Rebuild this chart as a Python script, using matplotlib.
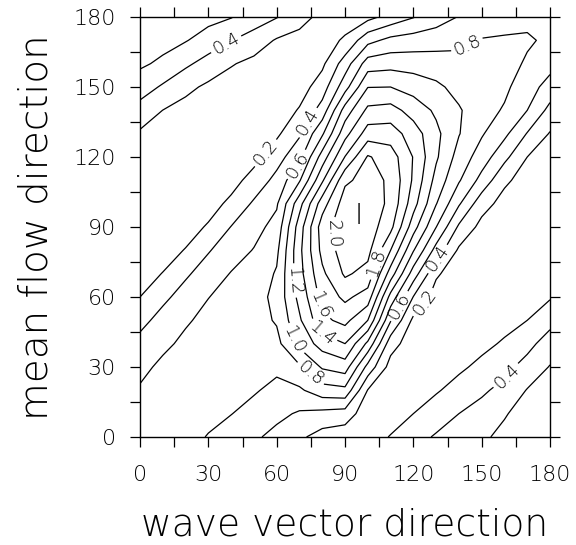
import numpy as np
import matplotlib
matplotlib.use("Agg")
import matplotlib.pyplot as plt

# grid of the field, degrees
wave_dir = np.arange(0, 181, 10)
flow_dir = np.arange(0, 181, 10)

# one column per wave vector direction, values listed from flow dir 0 up to 180
c000 = [0.70, 0.66, 0.62, 0.55, 0.46, 0.34, 0.20, 0.12, 0.065, 0.035, 0.034, 0.053, 0.10, 0.173, 0.32, 0.50, 0.63, 0.69, 0.75]
c010 = [0.69, 0.70, 0.68, 0.64, 0.56, 0.47, 0.355, 0.206, 0.119, 0.063, 0.034, 0.033, 0.06, 0.115, 0.198, 0.373, 0.565, 0.66, 0.73]
c020 = [0.66, 0.69, 0.70, 0.68, 0.64, 0.578, 0.48, 0.37, 0.21, 0.118, 0.06, 0.034, 0.036, 0.069, 0.133, 0.249, 0.438, 0.612, 0.70]
c030 = [0.59, 0.65, 0.69, 0.70, 0.69, 0.65, 0.596, 0.493, 0.385, 0.221, 0.121, 0.061, 0.036, 0.045, 0.087, 0.163, 0.322, 0.514, 0.66]
c040 = [0.51, 0.605, 0.66, 0.69, 0.70, 0.69, 0.66, 0.61, 0.508, 0.406, 0.244, 0.128, 0.064, 0.04, 0.056, 0.112, 0.215, 0.406, 0.61]
c050 = [0.433, 0.53, 0.62, 0.67, 0.70, 0.72, 0.71, 0.67, 0.61, 0.53, 0.43, 0.274, 0.139, 0.071, 0.05, 0.076, 0.148, 0.306, 0.51]
c060 = [0.34, 0.452, 0.545, 0.642, 0.74, 0.82, 0.86, 0.82, 0.755, 0.67, 0.575, 0.46, 0.32, 0.163, 0.084, 0.06, 0.093, 0.181, 0.41]
c070 = [0.236, 0.376, 0.568, 0.77, 1.057, 1.17, 1.26, 1.33, 1.35, 1.30, 1.127, 0.779, 0.535, 0.373, 0.217, 0.11, 0.08, 0.128, 0.28]
c080 = [0.12, 0.341, 0.715, 1.025, 1.285, 1.553, 1.67, 1.76, 1.86, 1.90, 1.71, 1.369, 1.089, 0.77, 0.481, 0.30, 0.16, 0.11, 0.14]
c090 = [0.08, 0.31, 0.747, 1.10, 1.40, 1.657, 1.844, 2.03, 2.10, 2.14, 2.10, 1.965, 1.607, 1.329, 1.088, 0.72, 0.497, 0.229, 0.10]
c100 = [0.115, 0.08, 0.19, 0.533, 0.954, 1.40, 1.714, 1.935, 2.06, 2.11, 2.11, 2.07, 2.02, 1.697, 1.447, 1.195, 0.898, 0.537, 0.14]
c110 = [0.21, 0.114, 0.08, 0.122, 0.283, 0.618, 0.929, 1.307, 1.60, 1.86, 1.96, 1.97, 1.90, 1.70, 1.477, 1.20, 0.926, 0.656, 0.27]
c120 = [0.33, 0.20, 0.108, 0.072, 0.087, 0.155, 0.393, 0.705, 1.014, 1.285, 1.48, 1.57, 1.59, 1.50, 1.318, 1.12, 0.913, 0.69, 0.39]
c130 = [0.42, 0.306, 0.179, 0.10, 0.063, 0.069, 0.117, 0.228, 0.523, 0.804, 1.01, 1.13, 1.23, 1.25, 1.165, 1.04, 0.89, 0.72, 0.50]
c140 = [0.505, 0.40, 0.277, 0.163, 0.09, 0.054, 0.054, 0.092, 0.167, 0.367, 0.624, 0.82, 0.92, 1.01, 1.02, 0.937, 0.86, 0.754, 0.61]
c150 = [0.58, 0.475, 0.367, 0.25, 0.147, 0.08, 0.045, 0.043, 0.074, 0.138, 0.281, 0.533, 0.706, 0.82, 0.88, 0.89, 0.86, 0.81, 0.70]
c160 = [0.63, 0.59, 0.462, 0.34, 0.225, 0.132, 0.07, 0.039, 0.038, 0.068, 0.128, 0.237, 0.455, 0.647, 0.78, 0.84, 0.86, 0.82, 0.73]
c170 = [0.67, 0.65, 0.61, 0.477, 0.335, 0.20, 0.117, 0.061, 0.033, 0.033, 0.061, 0.117, 0.20, 0.389, 0.60, 0.69, 0.78, 0.82, 0.76]
c180 = [0.70, 0.67, 0.64, 0.61, 0.50, 0.333, 0.182, 0.107, 0.057, 0.033, 0.033, 0.059, 0.11, 0.186, 0.34, 0.52, 0.67, 0.77, 0.76]

levels = [0.2, 0.4, 0.6, 0.8, 1.0, 1.2, 1.4, 1.6, 1.8, 2.0]

# where the contour labels sit (wave dir, flow dir)
label_spots = [(38, 168), (144, 167), (56, 121), (75, 134), (70, 116),
               (84, 87), (105, 74), (67, 67), (77, 56), (79, 44),
               (65, 41), (73, 25), (114, 56), (123, 59), (131, 76),
               (161, 26)]

peak_x, peak_y = 96, 94.5

plt.rcParams['font.family'] = ['DejaVu Sans']
plt.rcParams['font.weight'] = 200

field = np.array([c000, c010, c020, c030, c040, c050, c060, c070, c080, c090,
                  c100, c110, c120, c130, c140, c150, c160, c170, c180]).T

fig = plt.figure(figsize=(5.76, 5.45), dpi=100)
ax = fig.add_axes([0.2431, 0.1982, 0.7118, 0.7706])

cs = ax.contour(wave_dir, flow_dir, field, levels=levels, colors='black',
                linewidths=0.9)
labels = ax.clabel(cs, levels, manual=label_spots, fmt='%.1f', fontsize=13,
                   inline=True, inline_spacing=3)
for t in labels:
    t.set_fontweight(200)

ax.text(peak_x, peak_y, "I", ha='center', va='center', fontsize=20,
        fontweight=200)

ax.set_xlim(0, 180)
ax.set_ylim(0, 180)
ax.set_xticks(np.arange(0, 181, 30))
ax.set_yticks(np.arange(0, 181, 30))
ax.set_xticks(np.arange(0, 181, 15), minor=True)
ax.set_yticks(np.arange(0, 181, 15), minor=True)
for which in ('major', 'minor'):
    ax.tick_params(which=which, direction='out', length=7.5, width=0.9,
                   top=True, right=True, labelsize=16, pad=10)
ax.tick_params(axis='x', which='major', pad=13)
for lab in ax.get_xticklabels() + ax.get_yticklabels():
    lab.set_fontweight(200)
for sp in ax.spines.values():
    sp.set_linewidth(1.0)

ax.set_xlabel('wave vector direction', fontsize=27, fontweight=200,
              labelpad=16)
ax.set_ylabel('mean flow direction', fontsize=28, fontweight=200,
              labelpad=13)

fig.savefig('out.png', dpi=100)
